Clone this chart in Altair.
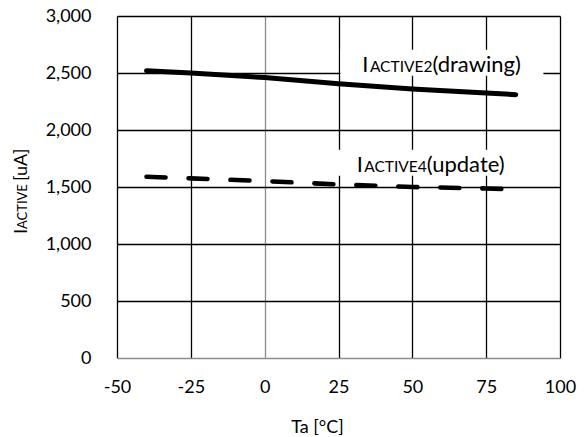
import altair as alt
import pandas as pd

# ---- data ----
ta = [-40, -25, 0, 25, 50, 75, 85]
i_active2 = [2520, 2500, 2460, 2405, 2360, 2325, 2310]
i_active4 = [1590, 1576, 1552, 1522, 1500, 1487, 1480]
x_ticks = [-50, -25, 0, 25, 50, 75, 100]
y_ticks = [0, 500, 1000, 1500, 2000, 2500, 3000]
series = ["IACTIVE2(drawing)", "IACTIVE4(update)"]
label_head = ["I", "I"]
label_sub = ["ACTIVE2", "ACTIVE4"]
label_tail = ["(drawing)", "(update)"]
x_title = "Ta [°C]"
y_title_head, y_title_sub, y_title_tail = "I", "ACTIVE", "[uA]"

# label anchors (data space) - start of the "(…)" part, on the text baseline
label_anchor_x = [56.8, 54.9]
label_anchor_y = [2511, 1634]

FONT = "Lato"

df = pd.DataFrame({
    "Ta": ta * 2,
    "I": i_active2 + i_active4,
    "series": [series[0]] * len(ta) + [series[1]] * len(ta),
})

xs = alt.Scale(domain=[-50, 100], nice=False)
ys = alt.Scale(domain=[0, 3000], nice=False)
grid_color = {"condition": {"test": "datum.value === 0", "value": "#8c8c8c"}, "value": "black"}

base = alt.Chart(df).encode(
    x=alt.X("Ta:Q", scale=xs, axis=alt.Axis(
        values=x_ticks, title=x_title, grid=True, gridColor=grid_color, gridWidth=1.3,
        domain=False, ticks=False, labelPadding=20, labelFontSize=18, labelColor="black",
        labelExpr="datum.value < 0 ? '-' + abs(datum.value) : '' + datum.value",
        labelFont=FONT, titleFont=FONT, titleFontSize=18, titleFontWeight="normal",
        titleColor="black", titleX=200, titleY=74, titleBaseline="alphabetic",
        titleAlign="center", labelFlush=False)),
    y=alt.Y("I:Q", scale=ys, axis=alt.Axis(
        values=y_ticks, title=None, grid=True, gridColor=grid_color, gridWidth=1.3,
        domain=False, ticks=False, labelPadding=26, labelFontSize=18, labelColor="black",
        labelFont=FONT, format=",d")),
)

solid = base.transform_filter(alt.datum.series == series[0]).mark_line(
    color="black", strokeWidth=5, strokeCap="round")
dashed = base.transform_filter(alt.datum.series == series[1]).mark_line(
    color="black", strokeWidth=4.6, strokeCap="round", strokeDash=[19, 23])

lab = pd.DataFrame({
    "x": label_anchor_x, "y": label_anchor_y,
    "head": label_head, "sub": label_sub, "tail": label_tail,
})
lab_base = alt.Chart(lab).encode(x=alt.X("x:Q", scale=xs), y=alt.Y("y:Q", scale=ys))

boxes = []
box_right = [111, 102]
for k in range(2):
    boxes.append(
        alt.Chart(lab.iloc[[k]]).mark_rect(
            color="white", xOffset=-92, x2Offset=box_right[k], yOffset=-22, y2Offset=4
        ).encode(x=alt.X("x:Q", scale=xs), x2="x:Q", y=alt.Y("y:Q", scale=ys), y2="y:Q")
    )

tail_txt = lab_base.mark_text(align="left", baseline="alphabetic", font=FONT,
                              fontSize=22, color="black").encode(text="tail:N")
sub_txt = lab_base.mark_text(align="right", baseline="alphabetic", font=FONT,
                             fontSize=15.5, color="black").encode(text="sub:N")
head_txt = lab_base.mark_text(align="right", baseline="alphabetic", font=FONT,
                              fontSize=22, color="black", dx=-64).encode(text="head:N")

one = pd.DataFrame({"a": [0]})
yt_head = alt.Chart(one).mark_text(align="left", baseline="alphabetic", angle=270,
                                   font=FONT, fontSize=18, color="black").encode(
    x=alt.value(-90), y=alt.value(218), text=alt.value(y_title_head))
yt_sub = alt.Chart(one).mark_text(align="left", baseline="alphabetic", angle=270,
                                  font=FONT, fontSize=13, color="black").encode(
    x=alt.value(-90), y=alt.value(213), text=alt.value(y_title_sub))
yt_tail = alt.Chart(one).mark_text(align="left", baseline="alphabetic", angle=270,
                                   font=FONT, fontSize=18, color="black").encode(
    x=alt.value(-90), y=alt.value(165), text=alt.value(y_title_tail))

chart = alt.layer(
    *boxes, solid, dashed, tail_txt, sub_txt, head_txt, yt_head, yt_sub, yt_tail
).properties(
    width=443, height=342,
    autosize=alt.AutoSizeParams(type="none"),
    padding={"left": 117, "top": 16, "right": 25, "bottom": 79},
).configure_view(stroke=None).configure(font=FONT, background="white")

chart.save("out.html", embed_options={"renderer": "svg", "actions": False})
